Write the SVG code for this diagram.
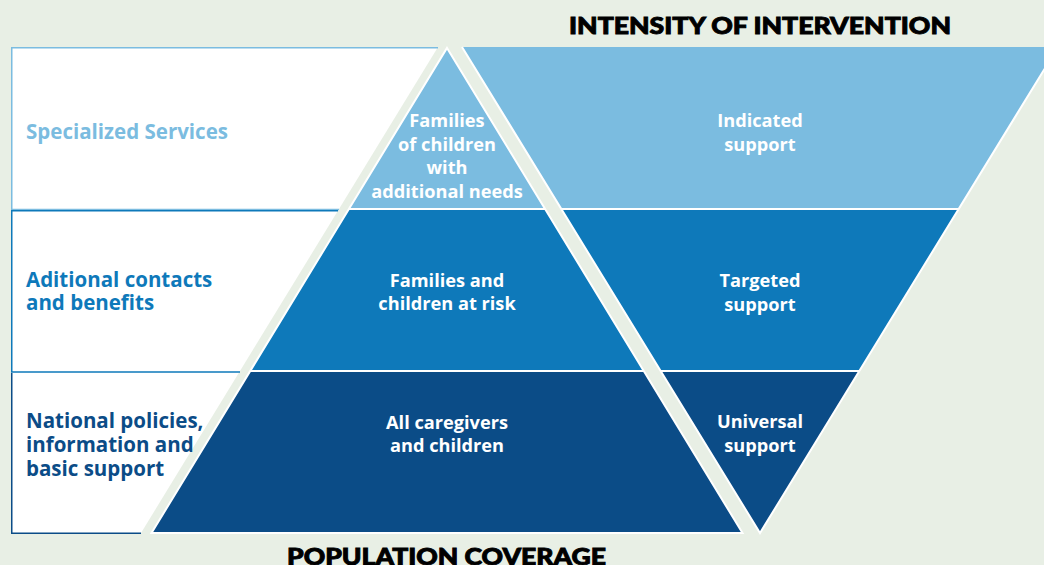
<svg xmlns="http://www.w3.org/2000/svg" width="1044" height="565" viewBox="0 0 1044 565">
<style>
.lbl{font-family:"Open Sans","Liberation Sans",sans-serif;font-weight:700;font-size:20.5px}
.in{font-family:"Open Sans","Liberation Sans",sans-serif;font-weight:700;font-size:18.2px;fill:#ffffff;text-anchor:middle}
.ttl{font-family:Lato,"Liberation Sans",sans-serif;font-weight:900;font-size:23px;fill:#000000;stroke:#000000;stroke-width:0.9;text-anchor:middle}
.c1{fill:#7bbce0}.c2{fill:#0e79ba}.c3{fill:#0b4c87}
.sep{stroke:#ffffff;stroke-width:2;fill:none}
</style>
<rect width="1044" height="565" fill="#e8efe5"/>
<g id="left-panel">
<polygon points="11,47 438,47 141,533 11,533" fill="#ffffff"/>
<g id="box-specialized">
<polyline points="339,209.5 11.75,209.5 11.75,47.75 438,47.75" fill="none" stroke="#7bbce0" stroke-width="1.5"/>
<text class="lbl" x="26" y="139" fill="#7bbce0">Specialized Services</text>
</g>
<g id="box-additional">
<polyline points="338,210.75 11.75,210.75 11.75,372 240,372" fill="none" stroke="#0e79ba" stroke-width="1.5"/>
<text class="lbl" x="26" y="287" fill="#0e79ba">Aditional contacts</text>
<text class="lbl" x="26" y="310" fill="#0e79ba">and benefits</text>
</g>
<g id="box-national">
<polyline points="11.75,373 11.75,533.25 141,533.25" fill="none" stroke="#0b4c87" stroke-width="1.5"/>
<text class="lbl" x="26" y="428" fill="#0b4c87">National policies,</text>
<text class="lbl" x="26" y="452" fill="#0b4c87">information and</text>
<text class="lbl" x="26" y="476" fill="#0b4c87">basic support</text>
</g>
</g>
<g id="pyramid">
<g id="p-top">
<polygon class="c1" points="447,48 545.1,209 348.9,209"/>
<text class="in" x="447" y="127">Families</text>
<text class="in" x="447" y="151">of children</text>
<text class="in" x="447" y="174">with</text>
<text class="in" x="447" y="198">additional needs</text>
</g>
<g id="p-mid">
<polygon class="c2" points="348.9,209 545.1,209 643.8,371 250.2,371"/>
<text class="in" x="447" y="287">Families and</text>
<text class="in" x="447" y="310">children at risk</text>
</g>
<g id="p-bot">
<polygon class="c3" points="250.2,371 643.8,371 742.5,533 151.5,533"/>
<text class="in" x="447" y="429">All caregivers</text>
<text class="in" x="447" y="452">and children</text>
</g>
<polygon class="sep" points="447,48 742.5,533 151.5,533" stroke-width="1.5"/>
<line class="sep" x1="348.9" y1="209" x2="545.1" y2="209"/>
<line class="sep" x1="250.2" y1="371" x2="643.8" y2="371"/>
</g>
<g id="inverted">
<g id="i-top">
<polygon class="c1" points="462,47 1058,47 958.7,209 561.3,209"/>
<text class="in" x="760" y="127">Indicated</text>
<text class="in" x="760" y="151">support</text>
</g>
<g id="i-mid">
<polygon class="c2" points="561.3,209 958.7,209 859.3,371 660.6,371"/>
<text class="in" x="760" y="287">Targeted</text>
<text class="in" x="760" y="311">support</text>
</g>
<g id="i-bot">
<polygon class="c3" points="660.6,371 859.3,371 760,533"/>
<text class="in" x="760" y="428">Universal</text>
<text class="in" x="760" y="452">support</text>
</g>
<polyline class="sep" points="462,47 760,533 1058,47" stroke-width="1.5"/>
<line class="sep" x1="561.3" y1="209" x2="958.7" y2="209"/>
<line class="sep" x1="660.6" y1="371" x2="859.3" y2="371"/>
</g>
<g id="titles">
<text class="ttl" x="760" y="33.5" textLength="382" lengthAdjust="spacingAndGlyphs">INTENSITY OF INTERVENTION</text>
<text class="ttl" x="446.5" y="564.5" textLength="319" lengthAdjust="spacingAndGlyphs">POPULATION COVERAGE</text>
</g>
<g id="connectors"/>
</svg>
